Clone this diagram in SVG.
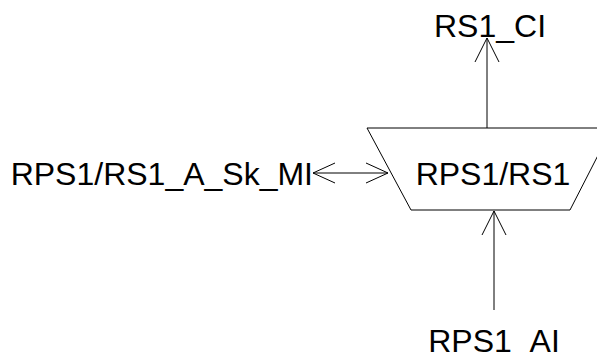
<svg xmlns="http://www.w3.org/2000/svg" width="597" height="354" viewBox="0 0 597 354">
<style>
text{font-family:"Liberation Sans",Arial,sans-serif;font-size:32px;fill:#000}
.ln{stroke:#000;stroke-width:1;fill:none}
</style>
<rect width="597" height="354" fill="#fff"/>
<g id="node-rps1-rs1">
<polygon class="ln" points="367,128 612,128 570,210 411,210" fill="#fff"/>
<text x="493" y="185" text-anchor="middle">RPS1/RS1</text>
</g>
<g id="node-rs1-ci"><text x="490" y="37" text-anchor="middle">RS1_CI</text></g>
<g id="node-sk-mi"><text x="313" y="185" text-anchor="end">RPS1/RS1_A_Sk_MI</text></g>
<g id="node-rps1-ai"><text x="494" y="352" text-anchor="middle">RPS1_AI</text></g>
<g id="connectors" class="ln">
<path class="ln" d="M487,128 V38 M475,62 L487,38 L499,62"/>
<path class="ln" d="M313,173 H388 M335,163 L313,173 L335,183 M366,163 L388,173 L366,183"/>
<path class="ln" d="M494,310 V211 M482,235 L494,211 L506,235"/>
</g>
</svg>
